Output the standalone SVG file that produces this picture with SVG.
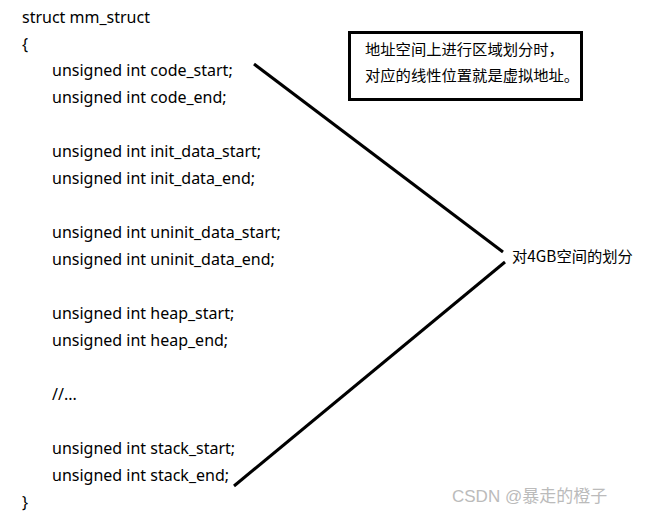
<svg xmlns="http://www.w3.org/2000/svg" width="654" height="516" viewBox="0 0 654 516">
<style>
.code{font-family:"Noto Sans","Liberation Sans","Noto Sans CJK SC",sans-serif;font-size:16px;fill:#000}
.cn{font-family:"Noto Sans CJK SC",sans-serif;font-size:15.3px;fill:#000}
.conn{stroke:#000;stroke-width:3;fill:none}
</style>
<rect width="654" height="516" fill="#fff"/>
<g id="code">
<text class="code" x="22" y="23">struct mm_struct</text>
<text class="code" x="22" y="50">{</text>
<text class="code" x="52" y="76">unsigned int code_start;</text>
<text class="code" x="52" y="103">unsigned int code_end;</text>
<text class="code" x="52" y="157">unsigned int init_data_start;</text>
<text class="code" x="52" y="184">unsigned int init_data_end;</text>
<text class="code" x="52" y="238">unsigned int uninit_data_start;</text>
<text class="code" x="52" y="265">unsigned int uninit_data_end;</text>
<text class="code" x="52" y="319">unsigned int heap_start;</text>
<text class="code" x="52" y="346">unsigned int heap_end;</text>
<text class="code" x="52" y="400">//...</text>
<text class="code" x="52" y="454">unsigned int stack_start;</text>
<text class="code" x="52" y="481">unsigned int stack_end;</text>
<text class="code" x="22" y="508">}</text>
</g>
<g id="note">
<rect x="349.5" y="32.5" width="232" height="67" fill="#fff" stroke="#000" stroke-width="3"/>
<text class="cn" x="365" y="55">地址空间上进行区域划分时，</text>
<text class="cn" x="365" y="81">对应的线性位置就是虚拟地址。</text>
</g>
<g id="label">
<text class="cn" x="512" y="262">对4GB空间的划分</text>
</g>
<g id="connectors">
<line class="conn" x1="254" y1="64" x2="503" y2="252"/>
<line class="conn" x1="234" y1="486" x2="505" y2="262"/>
</g>
<g id="watermark">
<text x="452" y="502" font-family="'Liberation Sans','Noto Sans CJK SC',sans-serif" font-size="17" fill="#bbb">CSDN @暴走的橙子</text>
</g>
</svg>
